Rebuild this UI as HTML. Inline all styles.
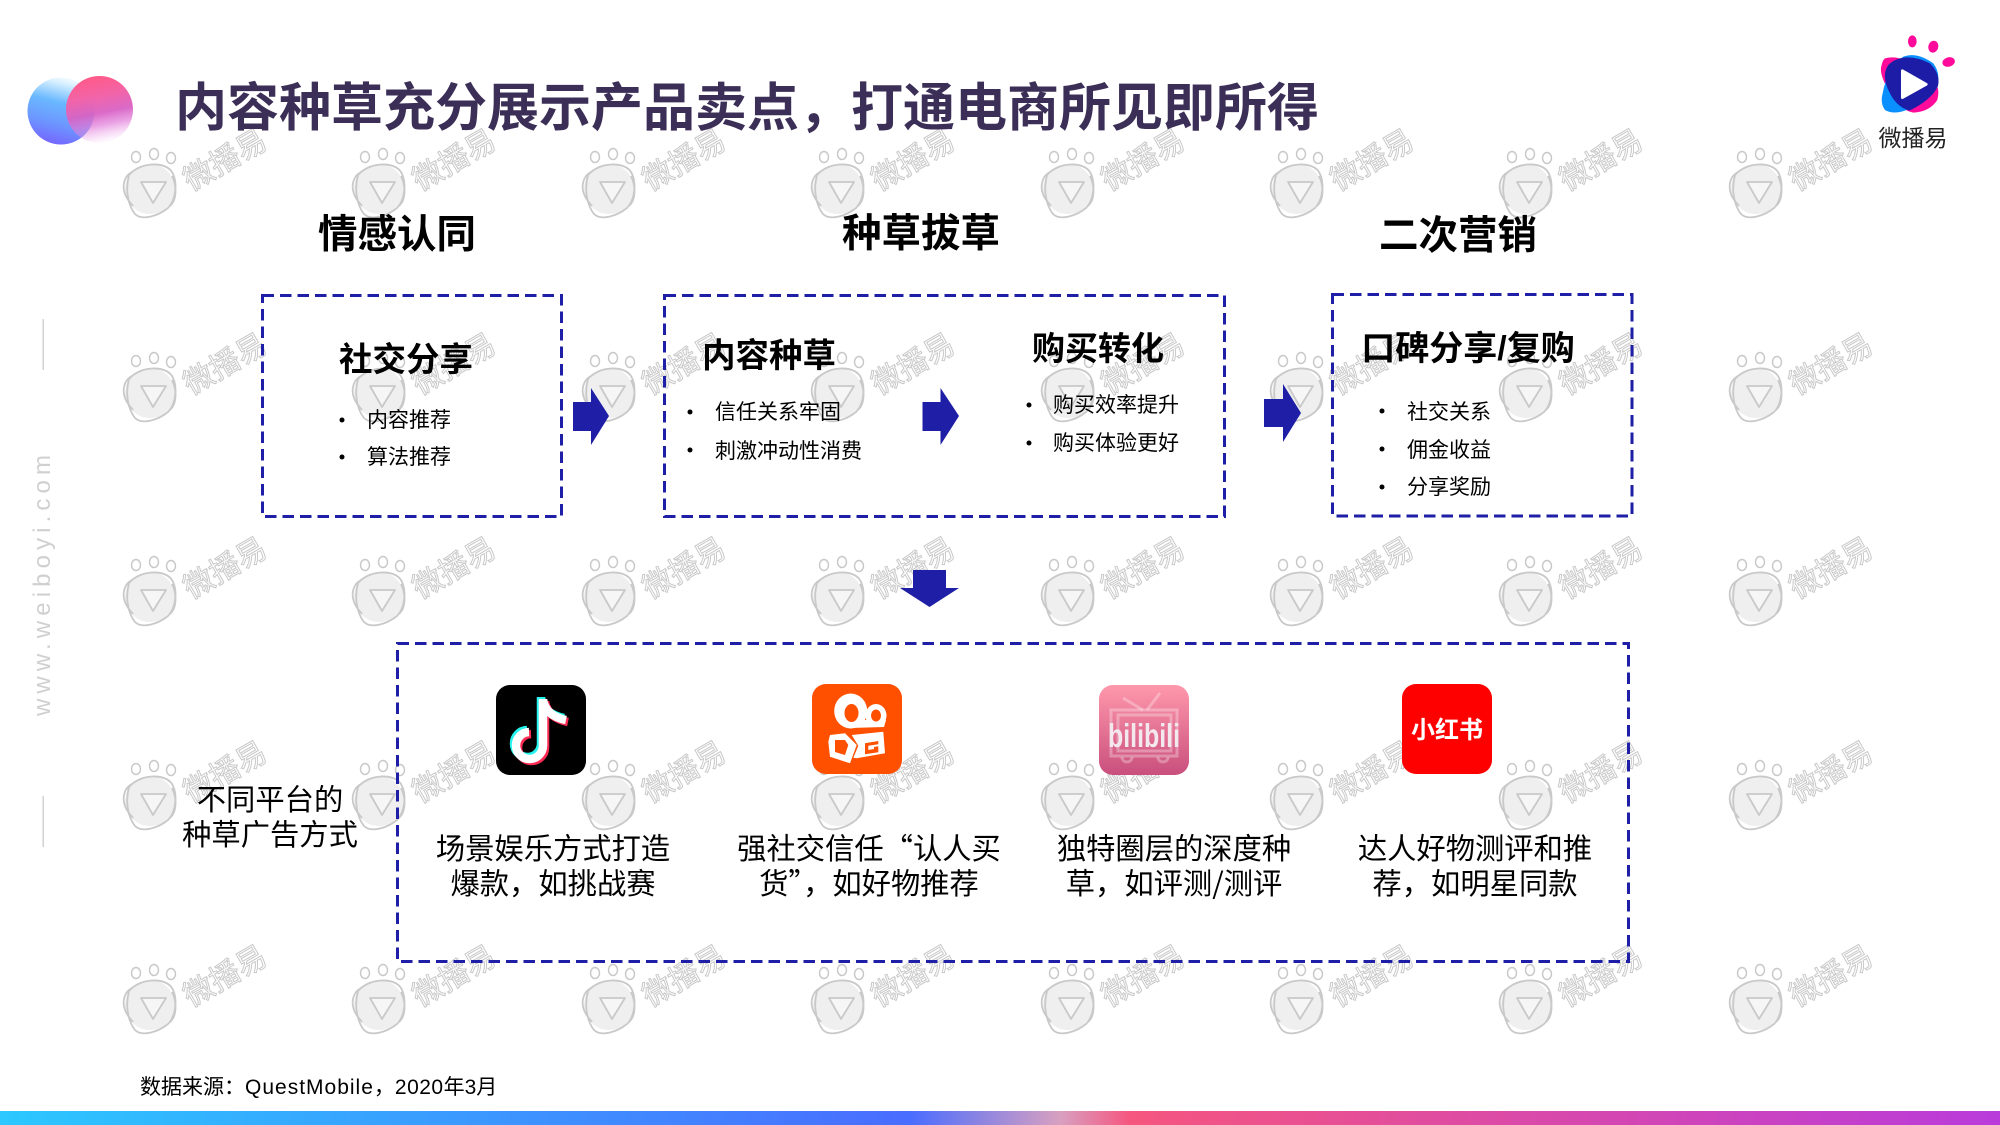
<!DOCTYPE html>
<html lang="zh-CN"><head><meta charset="utf-8"><title>内容种草</title>
<style>
html,body{margin:0;padding:0;background:#fff;width:2000px;height:1125px;overflow:hidden}
svg{display:block}
text{font-family:"Liberation Sans","Noto Sans CJK SC",sans-serif}
.w{font-size:30px;fill:#fff;stroke:#c9c9c9;stroke-width:1;text-anchor:middle;transform:translate(230px,169px) rotate(-30deg)}
.h{font-weight:700;fill:#000;text-anchor:middle}
.l{font-size:21px;fill:#000}
.c{font-size:29.3px;fill:#000;text-anchor:middle;font-family:"Noto Sans CJK SC",sans-serif}
.box{fill:none;stroke:#1e1ea6;stroke-width:3;stroke-dasharray:11.5 6}
</style></head><body>
<svg width="2000" height="1125" viewBox="0 0 2000 1125" xmlns="http://www.w3.org/2000/svg">
<defs>
<g id="p" stroke="#c9c9c9" fill="none">
<circle cx="150" cy="189" r="25" fill="#efefef" stroke="none"/>
<path stroke-width="1.8" d="M129,175C140,162 165,161 172,172C178,182 176,200 168,208C158,216 142,221 135,214C128,205 125,190 129,175Z"/>
<path stroke-width="1.8" d="M132,172C124,176 122,186 125,194C127,200 131,203 133,206M172,176C177,186 177,200 170,206"/>
<path stroke-width="1.8" fill="#f6f6f6" stroke-linejoin="round" d="M141,182H166L153,203Z"/>
<g fill="#fff" stroke-width="1.5"><ellipse cx="136" cy="157" rx="4.5" ry="5.5"/><ellipse cx="154" cy="154" rx="4.5" ry="5.5"/><ellipse cx="171" cy="158" rx="4.5" ry="5.5"/></g>
</g>
<linearGradient id="bar" x1="0" x2="1" y1="0" y2="0"><stop offset="0" stop-color="#2cc8ff"/><stop offset=".455" stop-color="#4a6cff"/><stop offset=".53" stop-color="#d8a0c0"/><stop offset=".565" stop-color="#f5567f"/><stop offset="1" stop-color="#b93bdb"/></linearGradient>
<linearGradient id="lb" x1=".7" y1="0" x2=".45" y2="1"><stop offset="0" stop-color="#fff"/><stop offset=".12" stop-color="#d8f0ff"/><stop offset=".4" stop-color="#6ab8ff"/><stop offset=".7" stop-color="#6c98ff"/><stop offset="1" stop-color="#7468ff"/></linearGradient>
<linearGradient id="lp" x1=".42" y1="0" x2=".62" y2="1"><stop offset="0" stop-color="#ff5a88" stop-opacity="1"/><stop offset=".3" stop-color="#f264a8" stop-opacity="1"/><stop offset=".55" stop-color="#d862c4" stop-opacity=".95"/><stop offset=".72" stop-color="#e078d8" stop-opacity=".7"/><stop offset="1" stop-color="#f0b0f0" stop-opacity="0"/></linearGradient>
<linearGradient id="bl" x1="0" y1="0" x2="0" y2="1"><stop offset="0" stop-color="#ff98ac"/><stop offset="1" stop-color="#c94f7d"/></linearGradient>
</defs>
<g>
<g><use href="#p"/><text class="w">微播易</text></g><g transform="translate(229,0)"><use href="#p"/><text class="w">微播易</text></g><g transform="translate(459,0)"><use href="#p"/><text class="w">微播易</text></g><g transform="translate(688,0)"><use href="#p"/><text class="w">微播易</text></g><g transform="translate(918,0)"><use href="#p"/><text class="w">微播易</text></g><g transform="translate(1147,0)"><use href="#p"/><text class="w">微播易</text></g><g transform="translate(1376,0)"><use href="#p"/><text class="w">微播易</text></g><g transform="translate(1606,0)"><use href="#p"/><text class="w">微播易</text></g>
<g transform="translate(0,204)"><use href="#p"/><text class="w">微播易</text></g><g transform="translate(229,204)"><use href="#p"/><text class="w">微播易</text></g><g transform="translate(459,204)"><use href="#p"/><text class="w">微播易</text></g><g transform="translate(688,204)"><use href="#p"/><text class="w">微播易</text></g><g transform="translate(918,204)"><use href="#p"/><text class="w">微播易</text></g><g transform="translate(1147,204)"><use href="#p"/><text class="w">微播易</text></g><g transform="translate(1376,204)"><use href="#p"/><text class="w">微播易</text></g><g transform="translate(1606,204)"><use href="#p"/><text class="w">微播易</text></g>
<g transform="translate(0,408)"><use href="#p"/><text class="w">微播易</text></g><g transform="translate(229,408)"><use href="#p"/><text class="w">微播易</text></g><g transform="translate(459,408)"><use href="#p"/><text class="w">微播易</text></g><g transform="translate(688,408)"><use href="#p"/><text class="w">微播易</text></g><g transform="translate(918,408)"><use href="#p"/><text class="w">微播易</text></g><g transform="translate(1147,408)"><use href="#p"/><text class="w">微播易</text></g><g transform="translate(1376,408)"><use href="#p"/><text class="w">微播易</text></g><g transform="translate(1606,408)"><use href="#p"/><text class="w">微播易</text></g>
<g transform="translate(0,612)"><use href="#p"/><text class="w">微播易</text></g><g transform="translate(229,612)"><use href="#p"/><text class="w">微播易</text></g><g transform="translate(459,612)"><use href="#p"/><text class="w">微播易</text></g><g transform="translate(688,612)"><use href="#p"/><text class="w">微播易</text></g><g transform="translate(918,612)"><use href="#p"/><text class="w">微播易</text></g><g transform="translate(1147,612)"><use href="#p"/><text class="w">微播易</text></g><g transform="translate(1376,612)"><use href="#p"/><text class="w">微播易</text></g><g transform="translate(1606,612)"><use href="#p"/><text class="w">微播易</text></g>
<g transform="translate(0,816)"><use href="#p"/><text class="w">微播易</text></g><g transform="translate(229,816)"><use href="#p"/><text class="w">微播易</text></g><g transform="translate(459,816)"><use href="#p"/><text class="w">微播易</text></g><g transform="translate(688,816)"><use href="#p"/><text class="w">微播易</text></g><g transform="translate(918,816)"><use href="#p"/><text class="w">微播易</text></g><g transform="translate(1147,816)"><use href="#p"/><text class="w">微播易</text></g><g transform="translate(1376,816)"><use href="#p"/><text class="w">微播易</text></g><g transform="translate(1606,816)"><use href="#p"/><text class="w">微播易</text></g>
</g>

<!-- left logo -->
<circle cx="61" cy="111" r="33.5" fill="url(#lb)"/>
<circle cx="99.5" cy="109.5" r="33.5" fill="url(#lp)"/>

<text x="175" y="126" font-size="52" font-weight="700" fill="#3c2f57">内容种草充分展示产品卖点&#65292;打通电商所见即所得</text>

<!-- top right logo -->
<g transform="translate(1700,0) scale(.3333)">
<path fill="#ff0a9a" d="M555,175Q590,165 640,190L700,240Q722,262 712,300Q690,335 640,338Q600,330 570,280Q535,220 545,195Q548,180 555,175Z"/>
<path fill="#0a8fff" d="M610,170Q650,155 700,190Q722,220 712,250Q690,300 620,330Q580,345 555,330Q540,310 548,280Q560,210 610,170Z"/>
<path fill="#1c1ca6" d="M600,175Q640,165 690,190Q722,222 714,258Q695,300 628,332Q590,320 570,280Q542,228 565,195Q580,180 600,175Z"/>
<path fill="#fff" stroke="#fff" stroke-width="8" stroke-linejoin="round" d="M607,212L679,253L607,293Z"/>
<ellipse cx="637" cy="124" rx="13" ry="18" fill="#ff0a9a"/>
<ellipse cx="700" cy="140" rx="15" ry="18" fill="#ff0a9a" transform="rotate(15 700 140)"/>
<ellipse cx="746" cy="186" rx="19" ry="14" fill="#ff0a9a" transform="rotate(-15 746 186)"/>
</g>
<text x="1913" y="146" font-size="23" fill="#222" text-anchor="middle">微播易</text>

<!-- left side -->
<rect x="42.5" y="319" width="1.5" height="51" fill="#d2d2d2"/>
<rect x="42.5" y="796" width="1.5" height="51" fill="#d2d2d2"/>
<text transform="translate(50,716) rotate(-90)" font-size="24" fill="#d0d0d0" textLength="261" lengthAdjust="spacing">www.weiboyi.com</text>

<!-- section headers -->
<text class="h" font-size="39.5" x="397" y="248">情感认同</text>
<text class="h" font-size="39.5" x="921" y="247">种草拔草</text>
<text class="h" font-size="39.5" x="1458" y="249">二次营销</text>

<!-- boxes -->
<rect class="box" x="262.5" y="295.5" width="299" height="221"/>
<rect class="box" x="664.5" y="295.5" width="560" height="221"/>
<rect class="box" x="1332.5" y="294.5" width="299.5" height="221.5"/>
<rect class="box" x="397.5" y="643.5" width="1231" height="318"/>

<!-- arrows -->
<path fill="#1e1ea6" d="M573,402H591V388L609,416L591,445V431H573Z"/>
<path fill="#1e1ea6" d="M922.5,402H940.5V388L959,416L940.5,445V431H922.5Z"/>
<path fill="#1e1ea6" d="M1264,399H1283V384L1301,413L1283,442V427H1264Z"/>
<path fill="#1e1ea6" d="M913,570H946V588H959L929.5,607L900,588H913Z"/>

<!-- box texts -->
<text class="h" font-size="33.5" x="406" y="371">社交分享</text>
<g fill="#000"><circle cx="342" cy="420" r="2.5"/><circle cx="342" cy="457" r="2.5"/><circle cx="690" cy="412" r="2.5"/><circle cx="690" cy="450" r="2.5"/><circle cx="1029" cy="405" r="2.5"/><circle cx="1029" cy="443" r="2.5"/><circle cx="1382" cy="411" r="2.5"/><circle cx="1382" cy="449" r="2.5"/><circle cx="1382" cy="487" r="2.5"/></g>
<text class="l" x="367" y="427">内容推荐</text>
<text class="l" x="367" y="464">算法推荐</text>
<text class="h" font-size="33.5" x="769" y="367">内容种草</text>
<text class="l" x="715" y="419">信任关系牢固</text>
<text class="l" x="715" y="458">刺激冲动性消费</text>
<text class="h" font-size="33" x="1098" y="360">购买转化</text>
<text class="l" x="1053" y="412">购买效率提升</text>
<text class="l" x="1053" y="450">购买体验更好</text>
<text class="h" font-size="34" x="1468" y="360">口碑分享/复购</text>
<text class="l" x="1407" y="419">社交关系</text>
<text class="l" x="1407" y="457">佣金收益</text>
<text class="l" x="1407" y="494">分享奖励</text>

<!-- left label -->
<text class="c" x="270" y="810">不同平台的</text>
<text class="c" x="270" y="845">种草广告方式</text>

<!-- tiktok -->
<rect x="496" y="685" width="90" height="90" rx="14" fill="#000"/>
<g fill="none" stroke-width="8.5">
<g stroke="#25f4ee" transform="translate(-2,-2)"><path d="M543,699V746A13.5,13.5 0 1 1 529,732"/><path d="M543,700Q546,716 566,720"/></g>
<g stroke="#fe2c55" transform="translate(2,2)"><path d="M543,699V746A13.5,13.5 0 1 1 529,732"/><path d="M543,700Q546,716 566,720"/></g>
<g stroke="#fff"><path d="M543,699V746A13.5,13.5 0 1 1 529,732"/><path d="M543,700Q546,716 566,720"/></g>
</g>

<!-- kuaishou -->
<rect x="812" y="684" width="90" height="90" rx="14" fill="#ff5000"/>
<path fill="#fff" d="M842,720L886,720L884,727L850,728Z"/>
<ellipse cx="850.7" cy="711" rx="16.5" ry="17.5" fill="#fff"/><ellipse cx="851.5" cy="713" rx="7" ry="9" fill="#ff5000"/>
<ellipse cx="876" cy="715.5" rx="10.5" ry="11.5" fill="#fff"/><ellipse cx="876" cy="715.5" rx="5" ry="6" fill="#ff5000"/>
<path fill="#fff" d="M830,735L845,733.3L856.7,745L850,763.3L830,756.7L828.3,741.7Z"/>
<path fill="#ff5000" d="M835,740L845,740L848.3,745L845,755L835,752Z"/>
<path fill="#fff" d="M851.7,735L883.3,731.7L885,753.3L856.7,758.3L853.3,757.7L858.3,745.7Z"/>
<path fill="#ff5000" d="M865,743.3L878.3,741V744.3L868.3,745.7V750L874,749V747L878.3,746.3V752.3L865,754.3Z"/>

<!-- bilibili -->
<rect x="1099" y="685" width="90" height="90" rx="14" fill="url(#bl)"/>
<g fill="none" stroke="#fff" stroke-opacity=".3" stroke-width="3">
<rect x="1111" y="710" width="66" height="46"/>
<rect x="1118" y="715" width="53" height="36"/>
<path d="M1123,698L1143,710M1160,693L1147,710"/>
<path d="M1122,757a5,5 0 0 0 10,0M1158,757a5,5 0 0 0 10,0"/>
</g>
<text x="1108" y="747" font-size="33" font-weight="700" fill="#f3e8ee" textLength="72" lengthAdjust="spacingAndGlyphs">bilibili</text>

<!-- xhs -->
<rect x="1402" y="684" width="90" height="90" rx="14" fill="#ff0000"/>
<text x="1447" y="738" font-size="24" font-weight="700" fill="#fff" text-anchor="middle">小红书</text>

<!-- captions -->
<text class="c" x="553" y="859">场景娱乐方式打造</text>
<text class="c" x="553" y="894">爆款&#65292;如挑战赛</text>
<text class="c" x="869" y="859">强社交信任&#8220;认人买</text>
<text class="c" x="869" y="894">货&#8221;&#65292;如好物推荐</text>
<text class="c" x="1174" y="859">独特圈层的深度种</text>
<text class="c" x="1174" y="894">草&#65292;如评测/测评</text>
<text class="c" x="1475" y="859">达人好物测评和推</text>
<text class="c" x="1475" y="894">荐&#65292;如明星同款</text>

<text x="140" y="1094" font-size="21" fill="#000">数据来源&#65306;<tspan letter-spacing="1">QuestMobile</tspan>&#65292;<tspan letter-spacing=".5">2020</tspan>年3月</text>
<rect x="0" y="1111" width="2000" height="14" fill="url(#bar)"/>
</svg>
</body></html>
